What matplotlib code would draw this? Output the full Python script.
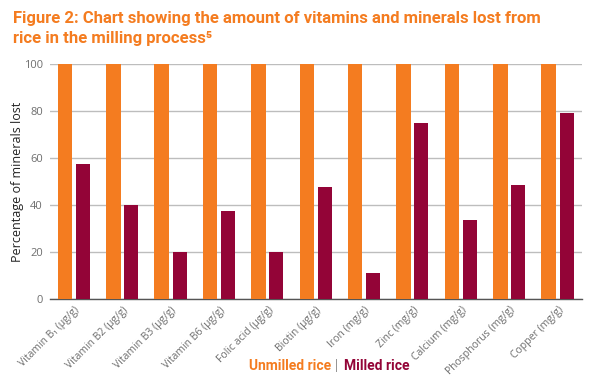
import matplotlib
matplotlib.use("Agg")
import matplotlib.pyplot as plt
import numpy as np

categories = ["Vitamin B\u2081 (\u00b5g/g)", "Vitamin B2 (\u00b5g/g)", "Vitamin B3 (\u00b5g/g)",
              "Vitamin B6 (\u00b5g/g)", "Folic acid (\u00b5g/g)", "Biotin (\u00b5g/g)",
              "Iron (mg/g)", "Zinc (mg/g)", "Calcium (mg/g)", "Phosphorus (mg/g)", "Copper (mg/g)"]
unmilled = [100, 100, 100, 100, 100, 100, 100, 100, 100, 100, 100]
milled = [57.5, 40, 20, 37.5, 20, 47.5, 11, 75, 33.5, 48.5, 79]
yticks = [0, 20, 40, 60, 80, 100]

ORANGE = "#F47C20"
MAROON = "#930437"
GRAY = "#6e6e6e"

plt.rcParams['font.family'] = ['Open Sans', 'DejaVu Sans']

fig = plt.figure(figsize=(6.02, 3.81), dpi=100)
ax = fig.add_axes([50/602, 1-299/381, 532/602, 235/381])

x = np.arange(len(categories))
ax.bar(x + 0.31, unmilled, width=0.30, color=ORANGE, zorder=3)
ax.bar(x + 0.68, milled, width=0.29, color=MAROON, zorder=3)

ax.set_xlim(0, len(categories))
ax.set_ylim(0, 100)
ax.set_yticks(yticks)
ax.set_yticklabels([str(t) for t in yticks], color=GRAY, fontsize=8)
ax.tick_params(axis='y', length=0, pad=5)
ax.yaxis.grid(True, color="#bdbdbd", linewidth=1, zorder=0)
ax.set_xticks(x + 0.5)
ax.set_xticklabels(categories, rotation=45, ha='right', rotation_mode='anchor',
                   fontsize=7.5, color=GRAY)
ax.tick_params(axis='x', length=0, pad=4)
for s in ['top', 'right', 'left']:
    ax.spines[s].set_visible(False)
ax.spines['bottom'].set_color("#555555")
ax.spines['bottom'].set_linewidth(1)
ax.set_ylabel("Percentage of minerals lost", fontsize=9, color="#222222", labelpad=2)
ax.yaxis.set_label_coords(-(50-24)/532, 0.5)

title_font = ['Roboto', 'DejaVu Sans']
fig.text(13/602, 1-18/381, "Figure 2: Chart showing the amount of vitamins and minerals lost from",
         color=ORANGE, fontsize=12, fontweight='bold', va='center', ha='left', family=title_font)
fig.text(13/602, 1-39/381, "rice in the milling process\u2075",
         color=ORANGE, fontsize=12, fontweight='bold', va='center', ha='left', family=title_font)

# legend text
ly = 1 - 366/381
fig.text(331/602, ly, "Unmilled rice", color=ORANGE, fontsize=10, fontweight='bold',
         ha='right', va='center', family=title_font)
fig.text(337/602, ly, "|", color="#888888", fontsize=9.5, ha='center', va='center')
fig.text(344/602, ly, "Milled rice", color=MAROON, fontsize=10, fontweight='bold',
         ha='left', va='center', family=title_font)

fig.savefig("out.png", dpi=100)
